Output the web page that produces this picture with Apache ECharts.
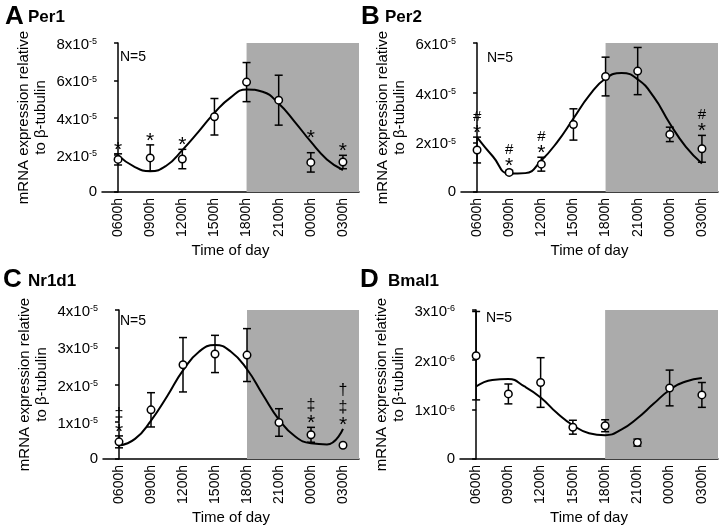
<!DOCTYPE html>
<html><head><meta charset="utf-8">
<script src="https://cdn.jsdelivr.net/npm/echarts@6/dist/echarts.min.js"></script>
<style>html,body{margin:0;padding:0;background:#fff}#c{width:720px;height:526px}</style>
</head><body><div id="c"></div>
<script>
// ---------- data (values in units of 10^exp) ----------
const categories = ['0600h','0900h','1200h','1500h','1800h','2100h','0000h','0300h'];
const fitX = [0,0.5,1,1.5,2,2.5,3,3.5,4,4.5,5,5.5,6,6.5,7];

const per1Mean = [1.75,1.83,1.77,4.04,5.90,4.93,1.59,1.61];
const per1Sem  = [0.30,0.70,0.52,0.98,1.05,1.34,0.52,0.36];
const per1Fit  = [1.98,1.36,1.12,1.41,2.25,3.23,4.25,5.07,5.50,5.38,4.75,3.77,2.70,1.75,1.18];
const per1Marks = ['*','*','*','','','','*','*'];

const per2Mean = [1.69,0.79,1.12,2.72,4.65,4.87,2.32,1.74];
const per2Sem  = [0.52,0.08,0.28,0.63,0.78,0.95,0.29,0.54];
const per2Fit  = [2.20,1.42,0.74,0.76,1.27,2.02,2.96,3.90,4.57,4.79,4.54,3.83,2.76,1.82,1.15];
const per2Marks = ['#\n*','#\n*','#\n*','','','','','#\n*'];

const nr1d1Mean = [0.46,1.32,2.53,2.82,2.79,0.98,0.65,0.37];
const nr1d1Sem  = [0.16,0.46,0.73,0.50,0.71,0.37,0.20,0.03];
const nr1d1Fit  = [0.36,0.54,1.03,1.68,2.38,2.88,3.06,2.88,2.41,1.72,1.06,0.61,0.42,0.39,0.81];
const nr1d1Marks = ['\u2021\n*','','','','','','\u2021\n*','\u2020\n\u2021\n*'];

const bmal1Mean = [2.08,1.31,1.54,0.64,0.67,0.33,1.43,1.29];
const bmal1Sem  = [0.89,0.20,0.50,0.14,0.12,0.07,0.36,0.25];
const bmal1Fit  = [1.46,1.59,1.61,1.46,1.24,0.93,0.68,0.52,0.48,0.59,0.82,1.11,1.39,1.56,1.63];
const bmal1Marks = ['','','','','','','',''];

const per1Ticks = [0,2,4,6,8];
const per2Ticks = [0,2,4,6];
const nr1d1Ticks = [0,1,2,3,4];
const bmal1Ticks = [0,1,2,3];

const panelLetters = ['A','B','C','D'];
const geneNames = ['Per1','Per2','Nr1d1','Bmal1'];
const exponents = ['-5','-5','-5','-6'];
const nLabel = 'N=5';
const xTitle = 'Time of day';
const yTitle = 'mRNA expression relative\nto \u03b2-tubulin';

// ---------- layout ----------
const FONT = '"Liberation Sans", Arial, Helvetica, sans-serif';
const panels = [
  {mean:per1Mean, sem:per1Sem, fit:per1Fit, marks:per1Marks, ticks:per1Ticks, exp:exponents[0],
   g:{left:102, top:43, width:257, height:149}, lx:5, ly:17, gx:28, gy:19, nx:18, ny:14},
  {mean:per2Mean, sem:per2Sem, fit:per2Fit, marks:per2Marks, ticks:per2Ticks, exp:exponents[1],
   g:{left:461, top:43, width:257, height:149}, lx:361, ly:17, gx:385, gy:19, nx:26, ny:15},
  {mean:nr1d1Mean, sem:nr1d1Sem, fit:nr1d1Fit, marks:nr1d1Marks, ticks:nr1d1Ticks, exp:exponents[2],
   g:{left:103, top:310, width:256, height:149}, lx:3, ly:280, gx:28, gy:283, nx:17, ny:11},
  {mean:bmal1Mean, sem:bmal1Sem, fit:bmal1Fit, marks:bmal1Marks, ticks:bmal1Ticks, exp:exponents[3],
   g:{left:460, top:310, width:258, height:149}, lx:360, ly:280, gx:388, gy:283, nx:26, ny:8}
];
const markFont = {'*':21, '#':15, '\u2021':16, '\u2020':16};
const markShift = {'*':4, '#':0, '\u2021':-1, '\u2020':-1};

const grid = [], xAxis = [], yAxis = [], series = [], graphic = [];
panels.forEach((p, k) => {
  grid.push(Object.assign({containLabel:false}, p.g));
  const tmax = p.ticks[p.ticks.length-1];
  const tint = p.ticks[1] - p.ticks[0];
  xAxis.push({
    type:'category', gridIndex:k, data:categories, boundaryGap:true,
    axisLine:{lineStyle:{color:'#000', width:1.5}},
    axisTick:{alignWithLabel:true, length:4, lineStyle:{color:'#000', width:1.5}},
    axisLabel:{rotate:90, fontSize:14, color:'#000', margin:6, fontFamily:FONT},
    name:xTitle, nameLocation:'middle', nameGap:51,
    nameTextStyle:{fontSize:15, color:'#000', fontFamily:FONT}
  });
  xAxis.push({type:'value', gridIndex:k, min:-0.5, max:7.5, show:false});
  yAxis.push({
    type:'value', gridIndex:k, min:0, max:tmax, interval:tint,
    splitLine:{show:false},
    axisLine:{show:true, lineStyle:{color:'#000', width:1.5}},
    axisTick:{show:true, length:4, lineStyle:{color:'#000', width:1.5}},
    axisLabel:{fontSize:15, color:'#000', margin:5, fontFamily:FONT,
      formatter: v => v === 0 ? '0' : '{b|' + v + 'x10}{s|' + p.exp + '}',
      rich:{
        b:{fontSize:15, color:'#000', fontFamily:FONT, lineHeight:15, padding:[4,0,0,0]},
        s:{fontSize:9, color:'#000', fontFamily:FONT, lineHeight:9, padding:[4,0,6,0]}
      }},
    name:yTitle, nameLocation:'middle', nameRotate:90, nameGap:53,
    nameTextStyle:{fontSize:15, color:'#000', lineHeight:17, fontFamily:FONT, align:'center'}
  });
  const xv = 2*k + 1;
  // fitted curve + dark-phase shading
  series.push({
    type:'line', xAxisIndex:xv, yAxisIndex:k, smooth:0.5, showSymbol:false, z:2,
    lineStyle:{color:'#000', width:2}, data: fitX.map((x,i)=>[x, p.fit[i]]),
    markArea:{silent:true, itemStyle:{color:'#ababab'},
      data:[[{xAxis:4, yAxis:0},{xAxis:7.5, yAxis:tmax}]]}
  });
  // error bars
  series.push({
    type:'custom', xAxisIndex:xv, yAxisIndex:k, z:3,
    data: p.mean.map((m,i)=>[i, m, p.sem[i]]),
    renderItem:(params, api) => {
      const x = api.value(0), m = api.value(1), s = api.value(2);
      const t = api.coord([x, m+s]), b = api.coord([x, m-s]);
      const w = 4;
      const st = {stroke:'#000', lineWidth:1.5};
      return {type:'group', children:[
        {type:'line', shape:{x1:t[0], y1:t[1], x2:b[0], y2:b[1]}, style:st},
        {type:'line', shape:{x1:t[0]-w, y1:t[1], x2:t[0]+w, y2:t[1]}, style:st},
        {type:'line', shape:{x1:b[0]-w, y1:b[1], x2:b[0]+w, y2:b[1]}, style:st}
      ]};
    }
  });
  // mean points
  series.push({
    type:'scatter', xAxisIndex:xv, yAxisIndex:k, z:4, symbol:'circle', symbolSize:7.5,
    itemStyle:{color:'#fff', borderColor:'#000', borderWidth:1.5, opacity:1},
    data: p.mean.map((m,i)=>[i, m])
  });
  // significance marks
  series.push({
    type:'custom', xAxisIndex:xv, yAxisIndex:k, z:5,
    data: p.mean.map((m,i)=>[i, m]),
    renderItem:(params, api) => {
      const i = api.value(0);
      const txt = p.marks[i];
      if (!txt) return null;
      const anchor = Math.max(p.mean[i] + p.sem[i], p.fit[2*i]);
      const c = api.coord([i, anchor]);
      const lines = txt.split('\n').reverse();
      let cy = c[1] - 8;
      const children = [];
      lines.forEach((ch, j) => {
        if (j === 1) cy -= 12.5; else if (j > 1) cy -= 17;
        children.push({type:'text', style:{text:ch, x:c[0], y:cy + (markShift[ch]||0), align:'center',
          verticalAlign:'middle', fontSize:markFont[ch]||15, fontFamily:FONT, fill:'#000'}});
      });
      return {type:'group', children};
    }
  });
  graphic.push({type:'text', left:p.lx, top:p.ly-13, style:{text:panelLetters[k], fontSize:26, fontWeight:'bold', fontFamily:FONT, fill:'#000'}});
  graphic.push({type:'text', left:p.gx, top:p.gy-10, style:{text:geneNames[k], fontSize:17, fontWeight:'bold', fontFamily:FONT, fill:'#000'}});
  graphic.push({type:'text', left:p.g.left+p.nx, top:p.g.top+p.ny-7, style:{text:nLabel, fontSize:14, fontFamily:FONT, fill:'#000'}});
});

const chart = echarts.init(document.getElementById('c'), null, {renderer:'canvas'});
chart.setOption({
  animation:false, backgroundColor:'#fff',
  textStyle:{fontFamily:FONT},
  grid, xAxis, yAxis, series, graphic
});
</script></body></html>
